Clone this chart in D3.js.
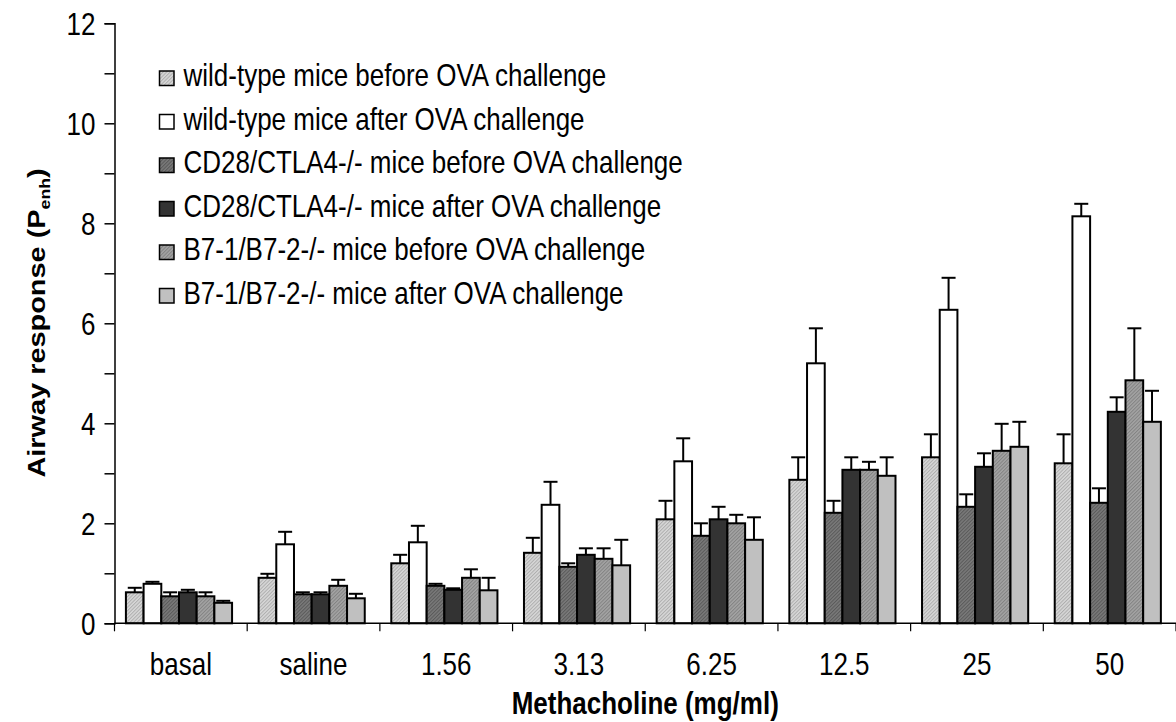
<!DOCTYPE html>
<html>
<head>
<meta charset="utf-8">
<script src="https://cdn.jsdelivr.net/npm/d3@7"></script>
<style>
  html, body { margin: 0; padding: 0; background: #fff; }
  svg { display: block; font-family: "Liberation Sans", Arial, sans-serif; }
</style>
</head>
<body>
<svg id="chart" width="1176" height="722"></svg>
<script>
// Methacholine doses (x categories)
const categories = ["basal", "saline", "1.56", "3.13", "6.25", "12.5", "25", "50"];

// Group labels, in legend / bar order
const seriesNames = [
  "wild-type mice before OVA challenge",
  "wild-type mice after OVA challenge",
  "CD28/CTLA4-/- mice before OVA challenge",
  "CD28/CTLA4-/- mice after OVA challenge",
  "B7-1/B7-2-/- mice before OVA challenge",
  "B7-1/B7-2-/- mice after OVA challenge"
];

// Mean Penh per dose, and upper error (SEM) per dose
const wtBefore     = [0.62, 0.91, 1.20, 1.41, 2.08, 2.87, 3.32, 3.20];
const wtBeforeErr  = [0.09, 0.08, 0.17, 0.30, 0.37, 0.45, 0.46, 0.58];
const wtAfter      = [0.79, 1.58, 1.62, 2.37, 3.24, 5.20, 6.27, 8.14];
const wtAfterErr   = [0.04, 0.25, 0.33, 0.46, 0.46, 0.70, 0.64, 0.25];
const cdBefore     = [0.54, 0.58, 0.75, 1.13, 1.75, 2.21, 2.33, 2.41];
const cdBeforeErr  = [0.08, 0.04, 0.04, 0.07, 0.25, 0.24, 0.25, 0.29];
const cdAfter      = [0.62, 0.58, 0.67, 1.37, 2.08, 3.07, 3.13, 4.23];
const cdAfterErr   = [0.05, 0.04, 0.03, 0.13, 0.25, 0.25, 0.27, 0.29];
const b7Before     = [0.54, 0.75, 0.91, 1.29, 2.00, 3.07, 3.45, 4.86];
const b7BeforeErr  = [0.08, 0.12, 0.17, 0.21, 0.17, 0.16, 0.54, 1.04];
const b7After      = [0.41, 0.50, 0.66, 1.16, 1.67, 2.95, 3.53, 4.03];
const b7AfterErr   = [0.04, 0.09, 0.25, 0.51, 0.45, 0.37, 0.50, 0.62];

const yTicks = [0, 1, 2, 3, 4, 5, 6, 7, 8, 9, 10, 11, 12];

const seriesValues = [wtBefore, wtAfter, cdBefore, cdAfter, b7Before, b7After];
const seriesErrors = [wtBeforeErr, wtAfterErr, cdBeforeErr, cdAfterErr, b7BeforeErr, b7AfterErr];

// Fills: fine hatched textures for some groups, flat greys for others
const fills = ["url(#hatchLight)", "#ffffff", "url(#hatchDark)", "#333333", "url(#hatchMid)", "#c0c0c0"];

const FS = 26;      // base font size
const SY = 1.18;    // glyphs are drawn taller than wide

const svg = d3.select("#chart");
const margin = { left: 114.5, right: 0, top: 23.3, bottom: 98.7 };
const W = 1176, H = 722;

// Hatch patterns
const defs = svg.append("defs");
function hatch(id, bg, line) {
  const p = defs.append("pattern")
    .attr("id", id)
    .attr("patternUnits", "userSpaceOnUse")
    .attr("width", 2.5).attr("height", 2.5)
    .attr("patternTransform", "rotate(45)");
  p.append("rect").attr("width", 2.5).attr("height", 2.5).attr("fill", bg);
  p.append("rect").attr("width", 1).attr("height", 2.5).attr("fill", line);
}
hatch("hatchLight", "#d8d8d8", "#adadad");
hatch("hatchDark", "#7a7a7a", "#595959");
hatch("hatchMid", "#a4a4a4", "#828282");

const x = d3.scaleBand()
  .domain(categories)
  .range([margin.left, W - margin.right])
  .paddingInner(0.2)
  .paddingOuter(0.1)
  .align(0.43);

const xBounds = d3.scaleBand()
  .domain(categories)
  .range([margin.left, W - margin.right])
  .padding(0);

const xs = d3.scaleBand()
  .domain(d3.range(seriesNames.length))
  .range([0, x.bandwidth()])
  .padding(0);

const y = d3.scaleLinear()
  .domain([0, 12])
  .range([H - margin.bottom, margin.top]);

// Places a text element at (tx, ty) with the tall glyph proportions
function placeText(sel, tx, ty) {
  sel.attr("x", 0).attr("y", 0)
    .attr("transform", (d, i) => {
      const px = typeof tx === "function" ? tx(d, i) : tx;
      const py = typeof ty === "function" ? ty(d, i) : ty;
      return `translate(${px},${py}) scale(1,${SY})`;
    });
}

// Bars
const groups = svg.append("g").selectAll("g")
  .data(categories)
  .join("g")
  .attr("transform", d => `translate(${x(d)},0)`);

groups.each(function(cat, ci) {
  const g = d3.select(this);
  seriesValues.forEach((vals, si) => {
    const v = vals[ci];
    const e = seriesErrors[si][ci];
    const bx = xs(si);
    const cx = bx + xs.bandwidth() / 2;
    // error bar (upper only)
    g.append("line")
      .attr("x1", cx).attr("x2", cx)
      .attr("y1", y(v)).attr("y2", y(v + e))
      .attr("stroke", "#000").attr("stroke-width", 2);
    g.append("line")
      .attr("x1", cx - 7).attr("x2", cx + 7)
      .attr("y1", y(v + e)).attr("y2", y(v + e))
      .attr("stroke", "#000").attr("stroke-width", 2);
    g.append("rect")
      .attr("x", bx)
      .attr("y", y(v))
      .attr("width", xs.bandwidth())
      .attr("height", y(0) - y(v))
      .attr("fill", fills[si])
      .attr("stroke", "#000")
      .attr("stroke-width", 2);
  });
});

// Y axis
const yAxis = d3.axisLeft(y)
  .tickValues(yTicks)
  .tickSize(10)
  .tickPadding(9)
  .tickFormat(d => d % 2 === 0 ? d : "");
const gy = svg.append("g")
  .attr("transform", `translate(${margin.left},0)`)
  .call(yAxis);
gy.select(".domain").attr("stroke", "#000").attr("stroke-width", 1.5);
gy.selectAll(".tick line").attr("stroke", "#000").attr("stroke-width", 1.5);
gy.selectAll(".tick text")
  .attr("fill", "#000")
  .attr("font-size", FS)
  .attr("font-family", "Liberation Sans, Arial, sans-serif")
  .attr("dy", "0.36em")
  .attr("transform", `scale(1,${SY})`);

// X axis: baseline with ticks at category boundaries
const gx = svg.append("g");
gx.append("line")
  .attr("x1", margin.left).attr("x2", W)
  .attr("y1", y(0)).attr("y2", y(0))
  .attr("stroke", "#000").attr("stroke-width", 1.5);
const boundaries = categories.map(c => xBounds(c))
  .concat([xBounds(categories[categories.length - 1]) + xBounds.bandwidth()]);
gx.selectAll("line.tk")
  .data(boundaries)
  .join("line")
  .attr("class", "tk")
  .attr("x1", d => d).attr("x2", d => d)
  .attr("y1", y(0)).attr("y2", y(0) + 8)
  .attr("stroke", "#000").attr("stroke-width", 1.2);
gx.selectAll("text")
  .data(categories)
  .join("text")
  .attr("text-anchor", "middle")
  .attr("font-size", FS)
  .attr("fill", "#000")
  .text(d => d)
  .call(placeText, d => xBounds(d) + xBounds.bandwidth() / 2, 675);

// Axis titles
svg.append("text")
  .attr("text-anchor", "middle")
  .attr("font-size", FS)
  .attr("font-weight", "bold")
  .text("Methacholine (mg/ml)")
  .call(placeText, (margin.left + W) / 2, 714);

const yt = svg.append("text")
  .attr("transform", `translate(45,323) scale(1,${SY}) rotate(-90)`)
  .attr("text-anchor", "middle")
  .attr("font-size", 24.5)
  .attr("font-weight", "bold");
yt.append("tspan").text("Airway response (P");
yt.append("tspan").attr("font-size", 15).attr("dy", 5).text("enh");
yt.append("tspan").attr("dy", -5).text(")");

// Legend
const legend = svg.append("g");
const rows = legend.selectAll("g")
  .data(seriesNames)
  .join("g")
  .attr("transform", (d, i) => `translate(159.5,${78.5 + i * 43.5})`);
rows.append("rect")
  .attr("x", 0).attr("y", -7.5)
  .attr("width", 14.5).attr("height", 14.5)
  .attr("fill", (d, i) => fills[i])
  .attr("stroke", "#000").attr("stroke-width", 1.5);
rows.append("text")
  .attr("text-anchor", "start")
  .attr("font-size", FS)
  .attr("fill", "#000")
  .text(d => d)
  .call(placeText, 24, 7.5);
</script>
</body>
</html>
